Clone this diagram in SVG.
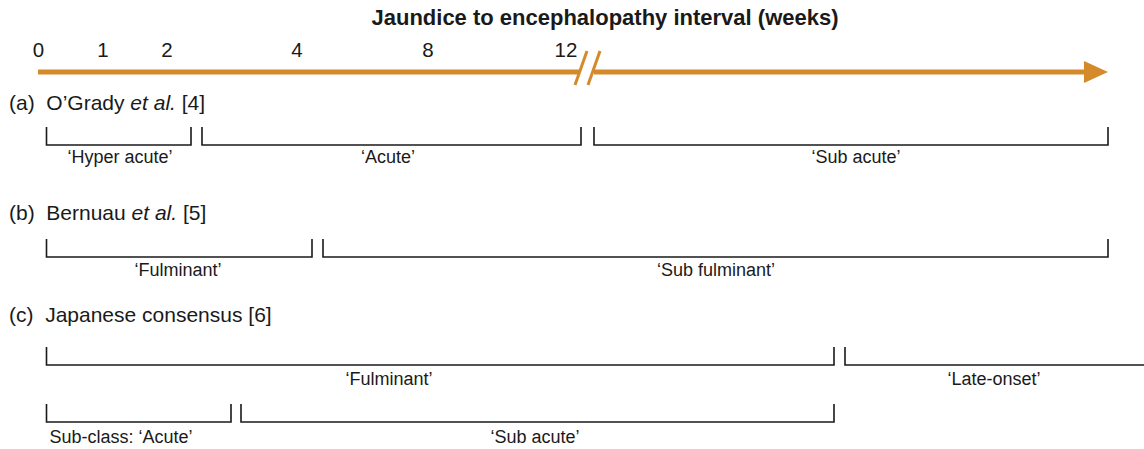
<svg xmlns="http://www.w3.org/2000/svg" width="1144" height="449" viewBox="0 0 1144 449">
<style>
text{font-family:"Liberation Sans",Arial,sans-serif;fill:#1a1a1a}
.title{font-size:22px;font-weight:bold;text-anchor:middle}
.tick{font-size:20.5px;text-anchor:middle}
.sec{font-size:21px}
.lab{font-size:18px;text-anchor:middle}
.br{fill:none;stroke:#1a1a1a;stroke-width:1.6}
.ax{stroke:#D48A2B;stroke-width:5;fill:none}
.brk{stroke:#D48A2B;stroke-width:3;fill:none}
</style>
<rect width="1144" height="449" fill="#fff"/>
<g id="axis">
<text class="title" x="605" y="25">Jaundice to encephalopathy interval (weeks)</text>
<text class="tick" x="38.5" y="57">0</text>
<text class="tick" x="103" y="57">1</text>
<text class="tick" x="167" y="57">2</text>
<text class="tick" x="297" y="57">4</text>
<text class="tick" x="428" y="57">8</text>
<text class="tick" x="566" y="57">12</text>
<line class="ax" x1="38" y1="72" x2="579" y2="72"/>
<line class="ax" x1="594" y1="72" x2="1088" y2="72"/>
<polygon points="1084,61 1108,72 1084,83" fill="#D48A2B"/>
<line class="brk" x1="575" y1="85" x2="587" y2="51"/>
<line class="brk" x1="588" y1="85" x2="600" y2="51"/>
</g>
<g id="section-a">
<text class="sec" x="9" y="110" xml:space="preserve">(a)  O’Grady <tspan font-style="italic">et al.</tspan> [4]</text>
<g id="a-hyperacute"><path class="br" d="M46.5,127 V145 H191 V127"/><text class="lab" x="120" y="163">‘Hyper acute’</text></g>
<g id="a-acute"><path class="br" d="M202,127 V145 H581 V127"/><text class="lab" x="388" y="163">‘Acute’</text></g>
<g id="a-subacute"><path class="br" d="M594,127 V145 H1108 V127"/><text class="lab" x="856" y="163">‘Sub acute’</text></g>
</g>
<g id="section-b">
<text class="sec" x="9" y="220" xml:space="preserve">(b)  Bernuau <tspan font-style="italic">et al.</tspan> [5]</text>
<g id="b-fulminant"><path class="br" d="M46.5,239 V257 H312 V239"/><text class="lab" x="178" y="276">‘Fulminant’</text></g>
<g id="b-subfulminant"><path class="br" d="M323,239 V257 H1108 V239"/><text class="lab" x="716" y="276">‘Sub fulminant’</text></g>
</g>
<g id="section-c">
<text class="sec" x="9" y="322" xml:space="preserve">(c)  Japanese consensus [6]</text>
<g id="c-fulminant"><path class="br" d="M46.5,347 V365 H834 V347"/><text class="lab" x="389" y="385">‘Fulminant’</text></g>
<g id="c-lateonset"><path class="br" d="M845,347 V365 H1150"/><text class="lab" x="994" y="385">‘Late-onset’</text></g>
<g id="c-subacute-class"><path class="br" d="M46.5,404 V422 H231 V404"/><text class="lab" x="121" y="443">Sub-class: ‘Acute’</text></g>
<g id="c-subacute"><path class="br" d="M241,404 V422 H834 V404"/><text class="lab" x="535" y="443">‘Sub acute’</text></g>
</g>
</svg>
